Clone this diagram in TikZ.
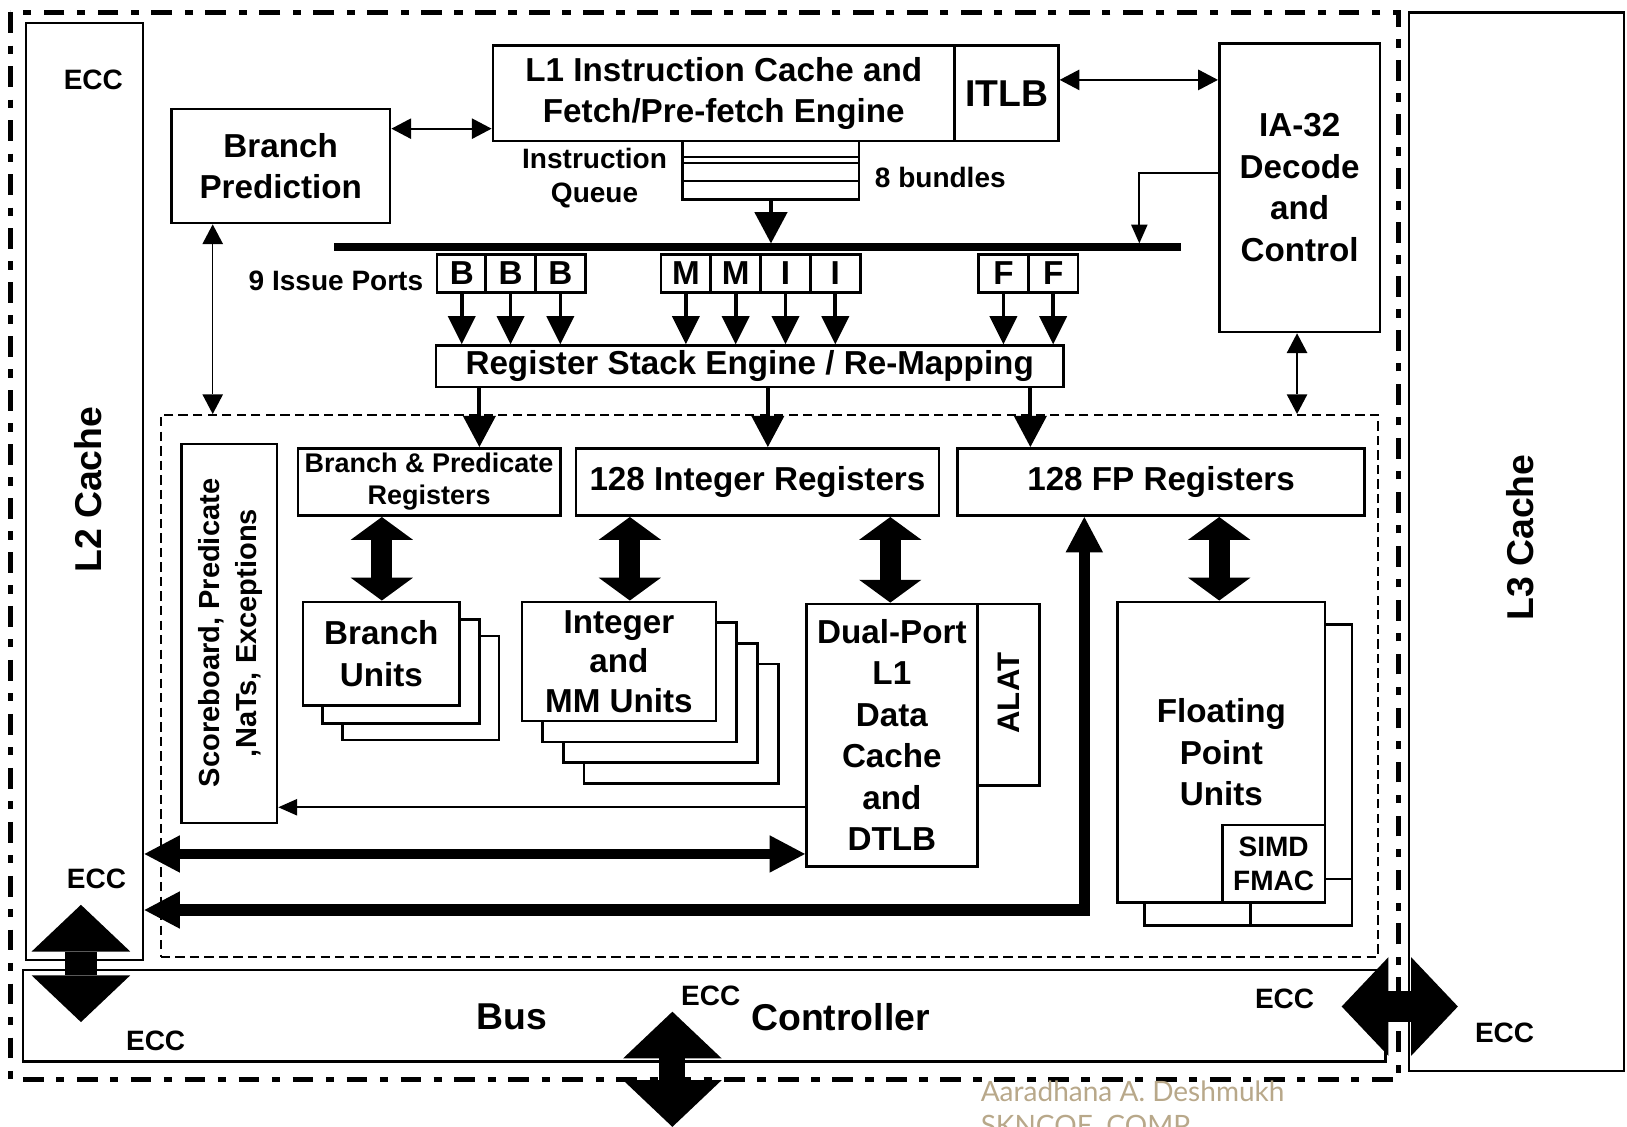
\documentclass[tikz,border=0pt]{standalone}
\usepackage{fontspec}
\setmainfont{Liberation Sans}
\newfontfamily\markfont{Lato}
\usetikzlibrary{arrows.meta,positioning}
\definecolor{markTan}{RGB}{184,168,138}

\begin{document}
\begin{tikzpicture}[x=1pt,y=-1pt,
  box/.style={draw, line width=2.5pt, fill=white, inner sep=0pt, align=center,
    font=\bfseries\fontsize{32}{40}\selectfont},
  port/.style={box, minimum width=48pt, minimum height=37pt},
  lbl/.style={inner sep=0pt, align=center, font=\bfseries\fontsize{27}{33}\selectfont},
  stack/.style={draw, line width=2.5pt, fill=white},
  thinarr/.style={line width=2pt, {Triangle[length=19pt,width=20pt,line width=0pt]}-{Triangle[length=19pt,width=20pt,line width=0pt]}},
  onearr/.style={line width=2pt, -{Triangle[length=18pt,width=16pt,line width=0pt]}},
  portarr/.style={line width=3.5pt, -{Triangle[length=27pt,width=27pt,line width=0pt]}},
  regarr/.style={line width=4pt, -{Triangle[length=30pt,width=32pt,line width=0pt]}},
  fatarr/.style={line width=20pt, {Triangle[length=22pt,width=60pt,line width=0pt]}-{Triangle[length=22pt,width=60pt,line width=0pt]}},
  busarr/.style={line width=9pt, {Triangle[length=34pt,width=36pt,line width=0pt]}-{Triangle[length=34pt,width=36pt,line width=0pt]}},
  bigarr/.style={line width=30pt, {Triangle[length=45pt,width=95pt,line width=0pt]}-{Triangle[length=45pt,width=95pt,line width=0pt]}}
]
\useasboundingbox (0,0) rectangle (1568,1086);

\draw[line width=5pt, dash pattern=on 20pt off 12pt on 8pt off 12pt] (10,12) rectangle (1348,1040);

\node[box, minimum width=207pt, minimum height=1020pt] (l3) at (1461.5,522) {};
\node[box, minimum width=113pt, minimum height=903pt] (l2) at (81.5,473.5) {};
\node[box, minimum width=1313pt, minimum height=88pt] (bus) at (678.5,979) {};
\node[draw, line width=2pt, dash pattern=on 9pt off 5pt, inner sep=0pt,
  minimum width=1173pt, minimum height=522pt] (core) at (741.5,661) {};

\node[lbl, rotate=90, font=\bfseries\fontsize{36}{40}\selectfont] (l2name) at (85,472) {L2 Cache};
\node[lbl, rotate=90, font=\bfseries\fontsize{36}{40}\selectfont] (l3name) at (1465,518) {L3 Cache};
\node[lbl, font=\bfseries\fontsize{36}{40}\selectfont] (busname) at (493,980) {Bus};
\node[lbl, font=\bfseries\fontsize{36}{40}\selectfont] (ctrlname) at (810,980) {Controller};
\foreach \x/\y/\n in {90/77/ecca,93/847/eccb,150/1003/eccc,685/960/eccd,1238/963/ecce,1450/995/eccf}
  \node[lbl] (\n) at (\x,\y) {ECC};

\node[box, minimum width=211pt, minimum height=110pt] (bp) at (270.5,160) {Branch\\Prediction};
\node[box, minimum width=445pt, minimum height=92pt] (l1) at (697.5,90) {L1 Instruction Cache and\\Fetch/Pre-fetch Engine};
\node[box, minimum width=100pt, minimum height=92pt, font=\bfseries\fontsize{36}{40}\selectfont] (itlb) at (970,90) {ITLB};
\node[box, minimum width=155pt, minimum height=278pt] (ia32) at (1252.5,181) {IA-32\\Decode\\and\\Control};
\node[box, minimum width=170pt, minimum height=56pt] (queue) at (743,164) {};
\foreach \y in {151,157,174}
  \draw[line width=2pt] (queue.west |- 0,\y) -- (queue.east |- 0,\y);
\node[lbl] (qname) at (573,172) {Instruction\\Queue};
\node[lbl, anchor=west] (qsize) at (843,171) {8 bundles};

\coordinate (barL) at (322,238);
\coordinate (barR) at (1138,238);
\coordinate (iatap) at (1098,234.5);
\draw[line width=7pt] (barL) -- (barR);
\node[lbl, anchor=east] (portname) at (408,271) {9 Issue Ports};
\foreach \x/\t/\n in {445/B/p1,492/B/p2,540/B/p3,661/M/p4,709/M/p5,757/I/p6,805/I/p7,967/F/p8,1015/F/p9}
  \node[port] (\n) at (\x,263.5) {\t};
\node[box, minimum width=605pt, minimum height=40pt] (rse) at (722.5,353) {Register Stack Engine / Re-Mapping};

\node[box, minimum width=92pt, minimum height=365pt] (score) at (221,610.5) {};
\node[lbl, rotate=90, font=\bfseries\fontsize{28}{35}\selectfont] (scorename) at (222,610) {Scoreboard, Predicate\\,NaTs, Exceptions};
\node[box, minimum width=253pt, minimum height=65pt, font=\bfseries\fontsize{26}{31}\selectfont] (bpr) at (413.5,464.5) {Branch \& Predicate\\Registers};
\node[box, minimum width=350pt, minimum height=65pt] (ireg) at (730,464.5) {128 Integer Registers};
\node[box, minimum width=392pt, minimum height=65pt] (fpreg) at (1119,464.5) {128 FP Registers};

\foreach \dx/\dy in {38/33,19/17}
  \draw[stack] (292+\dx,580+\dy) rectangle (443+\dx,680+\dy);
\node[box, minimum width=151pt, minimum height=100pt] (bu) at (367.5,630) {Branch\\Units};
\foreach \d in {60,40,20}
  \draw[stack] (503+\d,580+\d) rectangle (690+\d,695+\d);
\node[box, minimum width=187pt, minimum height=115pt, font=\bfseries\fontsize{32}{38}\selectfont] (intu) at (596.5,637.5) {Integer\\and\\MM Units};
\node[box, minimum width=165pt, minimum height=253pt] (dual) at (859.5,708.5) {Dual-Port\\L1\\Data\\Cache\\and\\DTLB};
\node[box, minimum width=60pt, minimum height=175pt] (alat) at (972,669.5) {};
\node[lbl, rotate=90, font=\bfseries\fontsize{30}{36}\selectfont] (alatname) at (972,668) {ALAT};

\draw[stack] (1103,602) rectangle (1303,892);
\draw[line width=2.5pt] (1277,847) -- (1303,847) (1205,870) -- (1205,892);
\node[box, minimum width=200pt, minimum height=290pt] (fpu) at (1177,725) {Floating\\Point\\Units};
\node[box, minimum width=99pt, minimum height=75pt, font=\bfseries\fontsize{27}{33}\selectfont] (simd) at (1227.5,832.5) {SIMD\\FMAC};

\draw[thinarr] (bp.east |- 0,124) -- (l1.west |- 0,124);
\draw[thinarr] (itlb.east |- 0,77) -- (ia32.west |- 0,77);
\draw[onearr] (ia32.west |- 0,167) -| (iatap);
\draw[thinarr, line width=1.5pt] (bp.south -| 205,0) -- (core.north -| 205,0);
\draw[thinarr, line width=1.5pt] (ia32.south -| 1250,0) -- (core.north -| 1250,0);
\draw[onearr] (dual.west |- 0,778) -- (score.east |- 0,778);

\draw[regarr, shorten >=3.5pt] (queue.south) -- (queue.south |- barL);
\foreach \i in {1,...,9}
  \draw[portarr] (p\i.south) -- (p\i.south |- rse.north);
\foreach \x/\n in {462/bpr,740/ireg,993/fpreg}
  \draw[regarr] (rse.south -| \x,0) -- (\x,0 |- \n.north);
\foreach \x/\a/\b in {368/bpr/bu,607/ireg/intu,858/ireg/dual,1175/fpreg/fpu}
  \draw[fatarr] (\x,0 |- \a.south) -- (\x,0 |- \b.north);

\draw[busarr] (l2.east |- 0,823) -- (dual.west |- 0,823);
\draw[busarr, line width=11pt] (l2.east |- 0,877) -| (1045,0 |- fpreg.south);

\coordinate (l2up) at (78,872);
\coordinate (l2dn) at (78,985);
\draw[bigarr] (l2up) -- (l2dn);
\coordinate (busup) at (648,975);
\coordinate (busdn) at (648,1086);
\draw[bigarr, line width=25pt] (busup) -- (busdn);
\coordinate (l3lt) at (1293,970);
\coordinate (l3rt) at (1405,970);
\draw[bigarr] (l3lt) -- (l3rt);

\node[anchor=base west, inner sep=0pt, text=markTan, font=\markfont\fontsize{27}{33}\selectfont] (mark1) at (945,1062) {Aaradhana A. Deshmukh};
\node[anchor=base west, inner sep=0pt, text=markTan, font=\markfont\fontsize{27}{33}\selectfont] (mark2) at (945,1094) {SKNCOE, COMP};
\end{tikzpicture}
\end{document}
